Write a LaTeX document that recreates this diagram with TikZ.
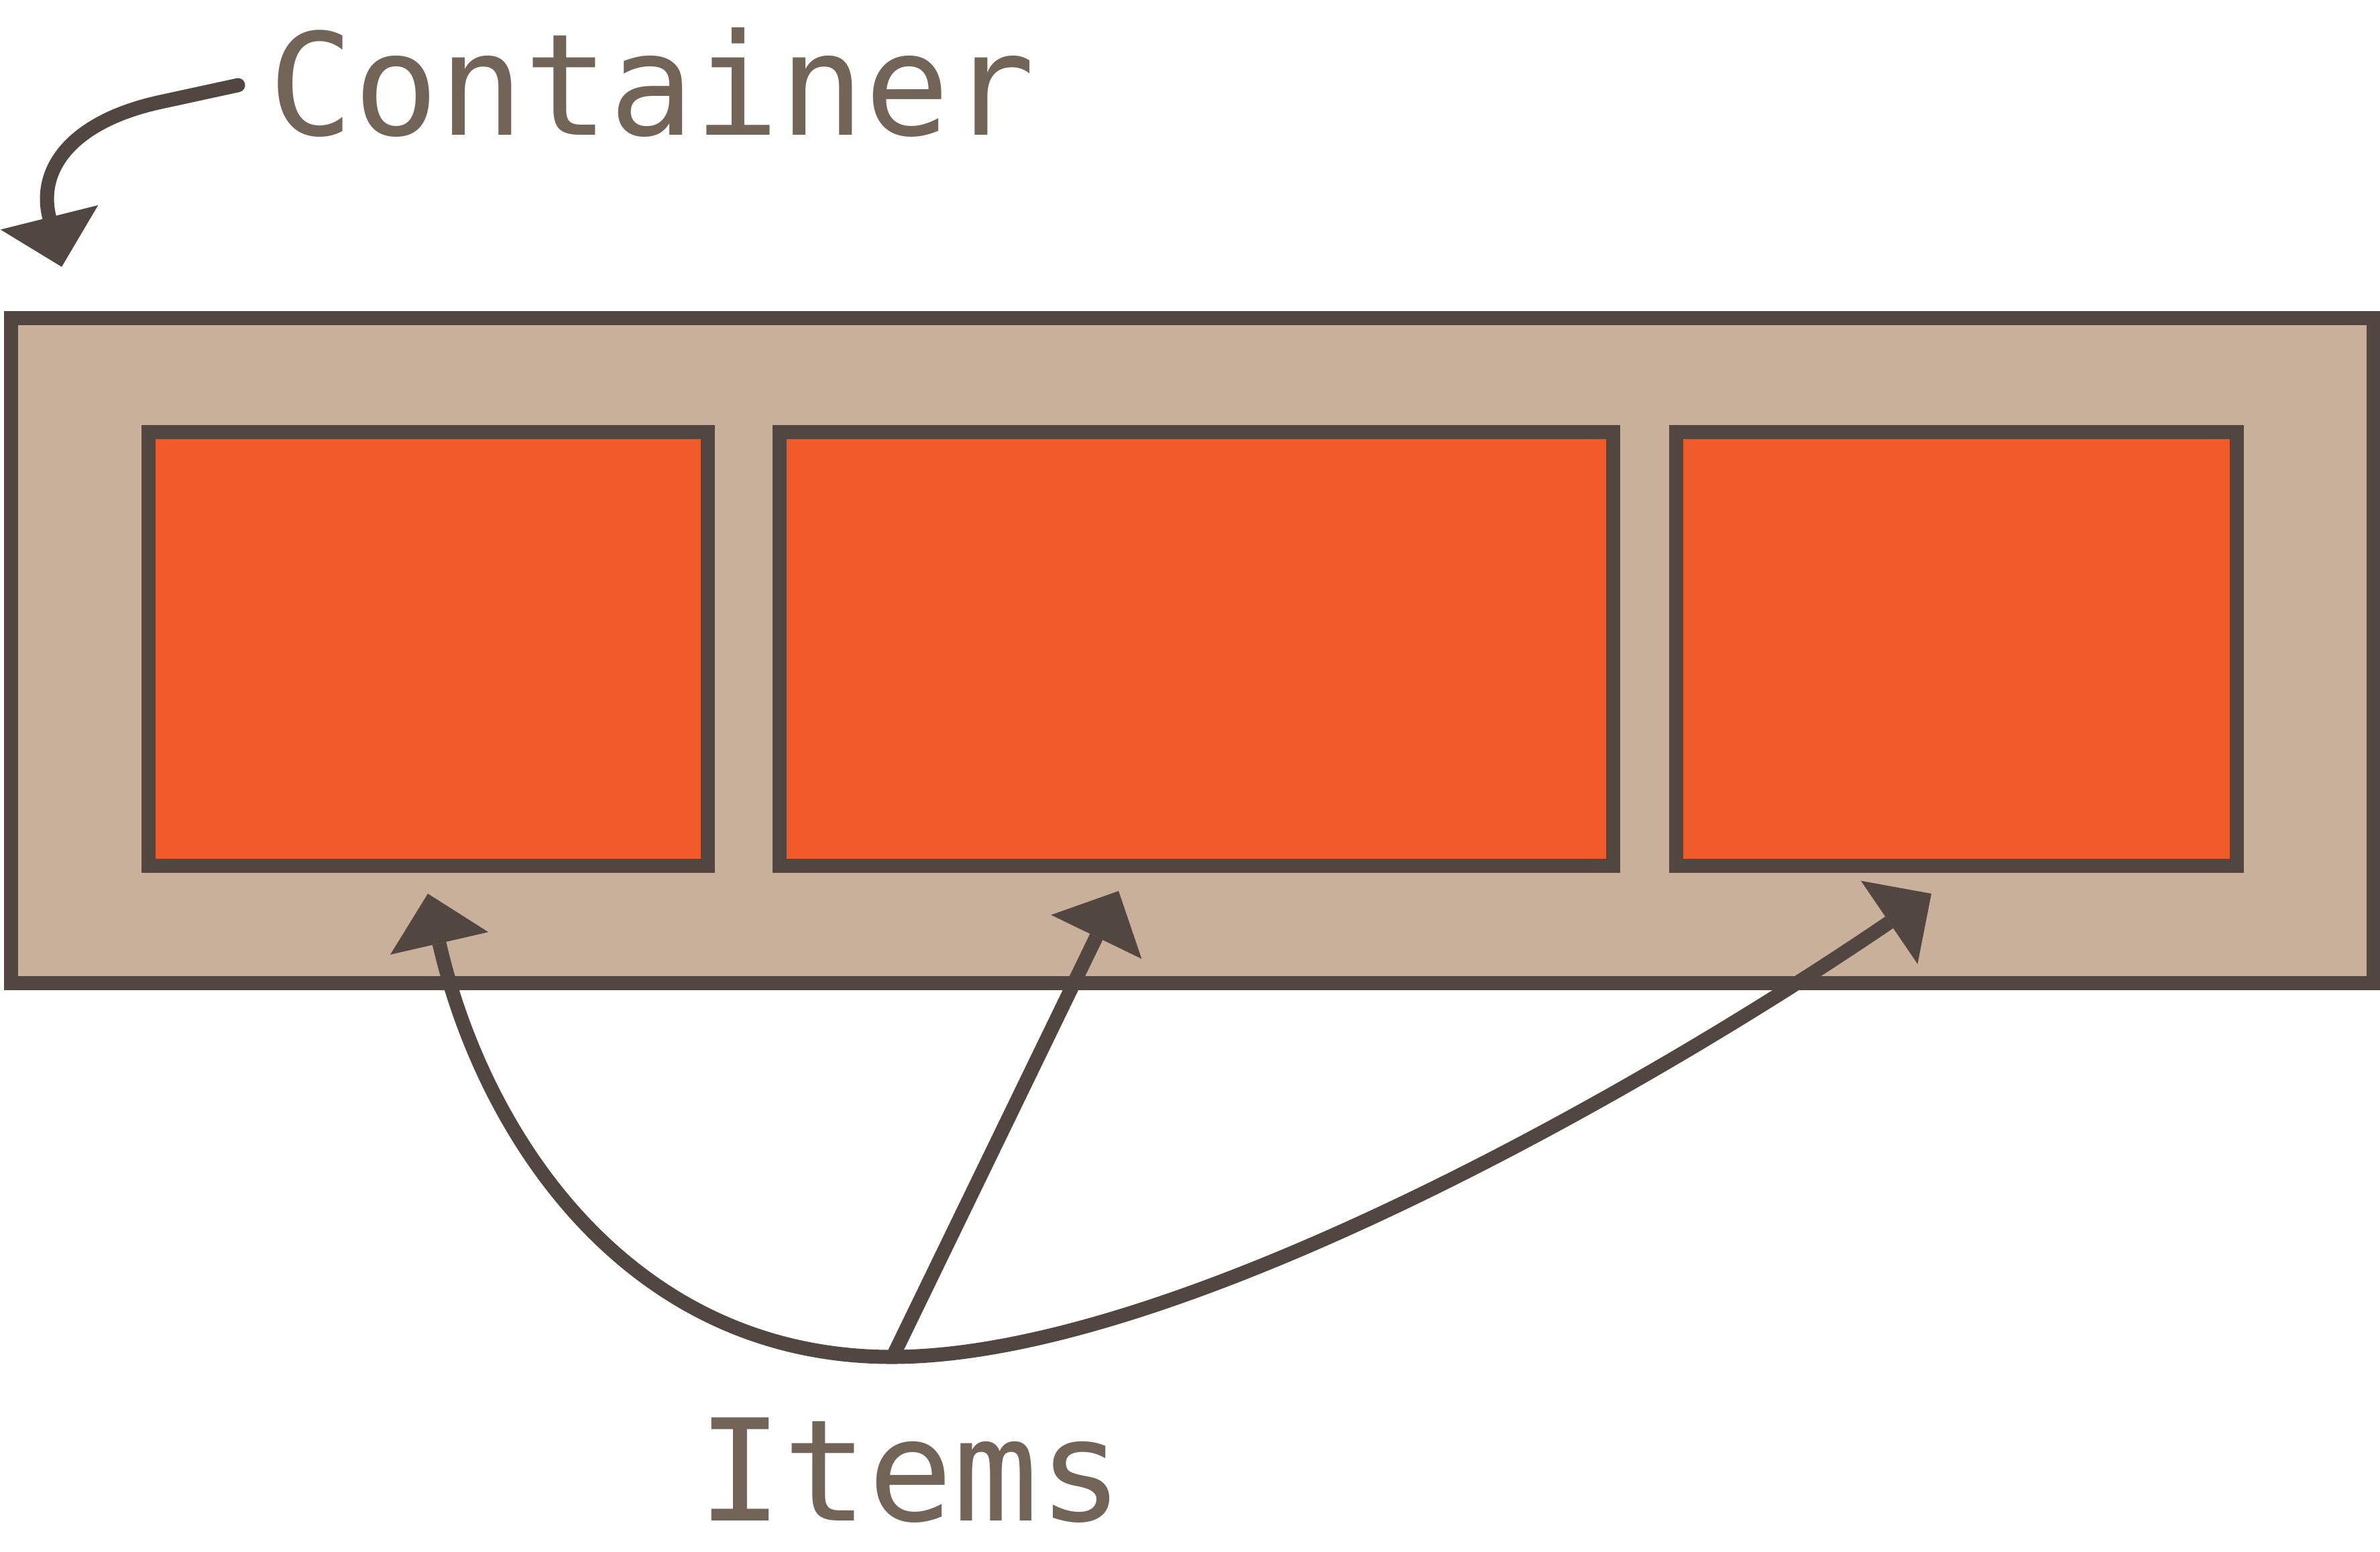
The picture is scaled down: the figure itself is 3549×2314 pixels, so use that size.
\documentclass[tikz,border=0pt]{standalone}
\usepackage{fontspec}
\newfontfamily\monofont{DejaVu Sans Mono}
\usetikzlibrary{arrows.meta}
\definecolor{lineC}{RGB}{82,71,64}
\definecolor{boxfill}{RGB}{200,176,154}
\definecolor{itemfill}{RGB}{240,90,40}
\definecolor{textC}{RGB}{115,100,88}
\tikzset{
  bigtip/.tip={Triangle[width=1.5cm,length=0.76cm,line width=0pt]},
  outerbox/.style={draw=lineC, fill=boxfill, line width=0.21cm, inner sep=0pt,
    minimum width=35.205cm, minimum height=9.91cm},
  itembox/.style={draw=lineC, fill=itemfill, line width=0.21cm, inner sep=0pt,
    minimum height=6.46cm},
  conn/.style={draw=lineC, line width=0.21cm},
  lbl/.style={font=\monofont\fontsize{60}{72}\selectfont, text=textC, inner sep=0pt, anchor=base}
}
\begin{document}
\begin{tikzpicture}[x=0.01cm,y=-0.01cm]
\useasboundingbox (0,0) rectangle (3549,2314);
\node[outerbox] (container) at (1777.75,970.5) {};
\node[itembox, minimum width=8.33cm] (item1) at (638.5,968) {};
\node[itembox, minimum width=12.42cm] (item2) at (1784,968) {};
\node[itembox, minimum width=8.35cm] (item3) at (2917.5,968) {};
\node[lbl] (containerlabel) at (972,201) {Container};
\node[lbl] (itemslabel) at (1358,2268) {Items};
\coordinate (t1) at (638,1333);
\coordinate (t2) at (1668,1329);
\coordinate (t3) at (2880,1333);
\coordinate (hub) at (1330,2024);
\coordinate (hubtop) at (1333,2020);
\coordinate (cstart) at (355,127);
\coordinate (cbend) at (240,152);
\coordinate (ctip) at (92,398);
\draw[conn, bigtip-bigtip] (t1) .. controls (722,1698) and (940,2024) .. (hub)
   .. controls (1750,2024) and (2450,1626) .. (t3);
\draw[conn, -bigtip] (hubtop) -- (t2);
\draw[conn, line cap=round, -bigtip] (cstart) -- (cbend) .. controls (110,180) and (55,250) .. (ctip);
\end{tikzpicture}
\end{document}
